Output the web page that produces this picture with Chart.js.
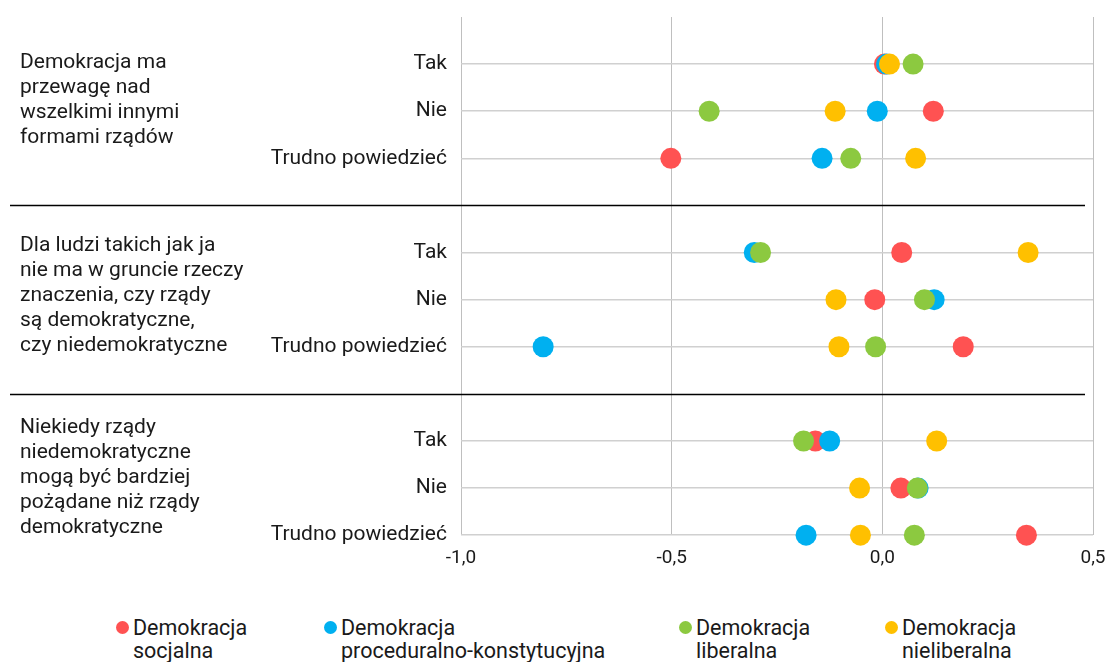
<!DOCTYPE html>
<html><head><meta charset="utf-8">
<script src="https://cdn.jsdelivr.net/npm/chart.js@4"></script>
<style>
  html, body { margin: 0; padding: 0; background: #fff; }
  body { width: 1107px; height: 662px; position: relative; overflow: hidden; font-family: Roboto, "Noto Sans", sans-serif; }
  #wrap { position: absolute; left: 0; top: 0; width: 1107px; height: 582px; }
  #legend .it { position: absolute; top: 616px; font-size: 21.5px; line-height: 23px; color: #1a1a1a; white-space: nowrap; }
  #legend .dot { position: absolute; left: -17px; top: 5px; width: 13px; height: 13px; border-radius: 50%; }
</style></head>
<body>
<div id="wrap"><canvas id="c"></canvas></div>
<div id="legend"></div>
<script>
// Dot plot: differences by democracy type for three statements, answers Tak / Nie / Trudno powiedzieć.
const groups = [
  ["Demokracja ma", "przewagę nad", "wszelkimi innymi", "formami rządów"],
  ["Dla ludzi takich jak ja", "nie ma w gruncie rzeczy", "znaczenia, czy rządy", "są demokratyczne,", "czy niedemokratyczne"],
  ["Niekiedy rządy", "niedemokratyczne", "mogą być bardziej", "pożądane niż rządy", "demokratyczne"],
];
const answers = ["Tak", "Nie", "Trudno powiedzieć"];
const xTicks = [-1, -0.5, 0, 0.5];

const seriesNames = [["Demokracja", "socjalna"], ["Demokracja", "proceduralno-konstytucyjna"], ["Demokracja", "liberalna"], ["Demokracja", "nieliberalna"]];
const seriesColors = ["#FF5252", "#00B0F0", "#8CC940", "#FFC000"];
const socjalna     = [0.005, 0.121, -0.502, 0.046, -0.018, 0.192, -0.159, 0.044, 0.342];
const proceduralna = [0.010, -0.012, -0.143, -0.304, 0.123, -0.805, -0.125, 0.085, -0.181];
const liberalna    = [0.073, -0.411, -0.075, -0.289, 0.100, -0.016, -0.187, 0.083, 0.076];
const nieliberalna = [0.017, -0.112, 0.079, 0.346, -0.110, -0.103, 0.129, -0.054, -0.052];
const seriesValues = [socjalna, proceduralna, liberalna, nieliberalna];

// row slot on the y scale: each group takes 3 rows plus one separator slot
const rowOf = i => Math.floor(i / 3) * 4 + (i % 3) + 1;
const rowLabel = {};
groups.forEach((g, gi) => answers.forEach((a, k) => { rowLabel[gi * 4 + k + 1] = a; }));
const rowTicks = Object.keys(rowLabel).map(Number);
const sepRows = groups.slice(1).map((g, gi) => (gi + 1) * 4);

const datasets = seriesValues.map((vals, s) => ({
  label: seriesNames[s].join(" "),
  data: vals.map((v, i) => ({x: v, y: rowOf(i)})),
  backgroundColor: seriesColors[s], borderWidth: 0, pointRadius: 10.5, pointHoverRadius: 10.5,
  clip: false,
  order: seriesValues.length - s,   // later series painted on top
}));

const groupShift = [-11, -4, -10];
const groupText = {
  id: "groupText",
  afterDraw(chart) {
    const {ctx, scales: {y}} = chart;
    ctx.save();
    ctx.strokeStyle = "#000"; ctx.lineWidth = 1.3;
    sepRows.forEach(r => {
      const py = Math.round(y.getPixelForValue(r)) + 0.5;
      ctx.beginPath(); ctx.moveTo(10, py); ctx.lineTo(1085, py); ctx.stroke();
    });
    ctx.fillStyle = "#1a1a1a"; ctx.font = "21px Roboto"; ctx.textAlign = "left"; ctx.textBaseline = "middle";
    groups.forEach((lines, gi) => {
      const mid = y.getPixelForValue(gi * 4 + 2) + groupShift[gi], lh = 25;
      lines.forEach((t, j) => ctx.fillText(t, 20, mid + (j - (lines.length - 1) / 2) * lh));
    });
    ctx.restore();
  }
};

new Chart(document.getElementById("c"), {
  type: "scatter",
  data: {datasets},
  options: {
    responsive: true, maintainAspectRatio: false, animation: false,
    layout: {padding: {top: 17, right: 14, left: 0, bottom: 0}},
    plugins: {legend: {display: false}, tooltip: {enabled: false}},
    scales: {
      x: {
        type: "linear", min: -1, max: 0.5,
        afterBuildTicks: s => { s.ticks = xTicks.map(v => ({value: v})); },
        afterFit: s => { s.paddingLeft = 0; s.paddingRight = 0; },
        ticks: {color: "#1a1a1a", font: {family: "Roboto", size: 19}, padding: 12,
                callback: v => v.toFixed(1).replace(".", ",")},
        grid: {color: "#BFBFBF", lineWidth: 1, drawTicks: false},
        border: {display: false},
      },
      y: {
        type: "linear", min: 0, max: 11, reverse: true,
        afterBuildTicks: s => { s.ticks = rowTicks.map(v => ({value: v})); },
        afterFit: s => { s.width = 461; s.paddingTop = 0; s.paddingBottom = 0; },
        ticks: {color: "#1a1a1a", font: {family: "Roboto", size: 21}, padding: 14, autoSkip: false,
                callback: v => rowLabel[v] || ""},
        grid: {drawTicks: false, lineWidth: 1.5, color: "#D0D0D0"},
        border: {display: false},
      }
    }
  },
  plugins: [groupText]
});

const legendLeft = [133, 341, 696, 902];
document.getElementById("legend").innerHTML = seriesNames.map((n, s) =>
  `<div class="it" style="left:${legendLeft[s]}px"><span class="dot" style="background:${seriesColors[s]}"></span>${n[0]}<br>${n[1]}</div>`).join("");
</script>
</body></html>
